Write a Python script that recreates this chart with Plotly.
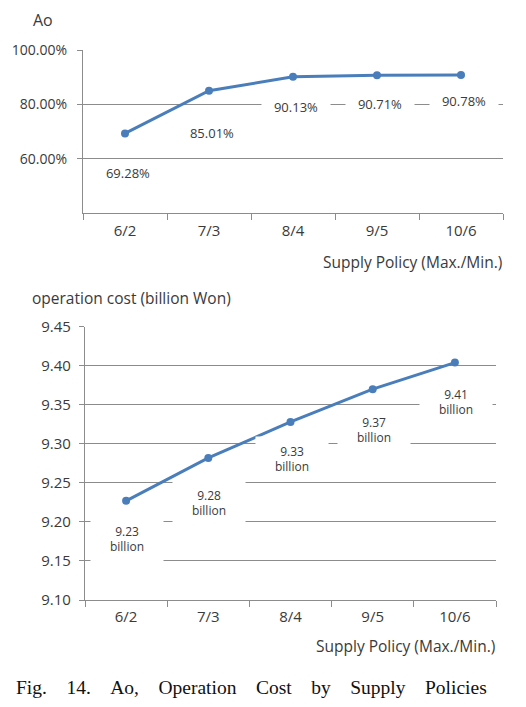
import plotly.graph_objects as go

policies = ["6/2", "7/3", "8/4", "9/5", "10/6"]
ao_values = [69.28, 85.01, 90.13, 90.71, 90.78]
ao_labels = ["69.28%", "85.01%", "90.13%", "90.71%", "90.78%"]
cost_values = [9.227, 9.282, 9.328, 9.370, 9.404]
cost_labels = ["9.23<br>billion", "9.28<br>billion", "9.33<br>billion", "9.37<br>billion", "9.41<br>billion"]
ao_ticks = [60, 80, 100]
ao_ticktext = ["60.00%", "80.00%", "100.00%"]
cost_ticks = [9.10, 9.15, 9.20, 9.25, 9.30, 9.35, 9.40, 9.45]
cost_ticktext = ["9.10", "9.15", "9.20", "9.25", "9.30", "9.35", "9.40", "9.45"]
caption_words = ["Fig.", "14.", "Ao,", "Operation", "Cost", "by", "Supply", "Policies"]

# page is 526x707; the html body has an 8px margin
OFF = 8
W, H = 526 - 2 * OFF, 707 - 2 * OFF
FONT = "Open Sans"
LINE = "#4a7ebb"
GRID = "#8c8c8c"
TXT = "#3a3a3a"

def px(x):
    return (x - OFF) / W

def py(y):
    return 1 - (y - OFF) / H

fig = go.Figure()
fig.add_trace(go.Scatter(x=policies, y=ao_values, mode="lines+markers",
                         line=dict(color=LINE, width=3), marker=dict(size=8, color=LINE),
                         xaxis="x", yaxis="y", showlegend=False, hoverinfo="skip"))
fig.add_trace(go.Scatter(x=policies, y=cost_values, mode="lines+markers",
                         line=dict(color=LINE, width=3), marker=dict(size=8, color=LINE),
                         xaxis="x2", yaxis="y2", showlegend=False, hoverinfo="skip"))

xcommon = dict(type="category", categoryorder="array", categoryarray=policies,
               range=[-0.5, 4.5], showgrid=False, showline=True, linecolor=GRID, linewidth=1.3,
               ticks="outside", tickson="boundaries", ticklen=6, tickcolor=GRID, tickwidth=1.3,
               tickfont=dict(family=FONT, size=15, color=TXT), zeroline=False, fixedrange=True,
               automargin=False)
ycommon = dict(showgrid=True, gridcolor=GRID, gridwidth=1.3,
               showline=True, linecolor=GRID, linewidth=1.3, ticks="outside", ticklen=5,
               tickcolor=GRID, tickwidth=1.3, zeroline=False, automargin=False)

fig.update_layout(
    width=W, height=H, autosize=False,
    margin=dict(l=0, r=0, t=0, b=0, pad=0, autoexpand=False),
    paper_bgcolor="white", plot_bgcolor="white",
    xaxis=dict(domain=[px(83), px(503)], anchor="y", ticklabelstandoff=4, **xcommon),
    yaxis=dict(domain=[py(213), py(50)], anchor="x", range=[40, 100],
               tickvals=ao_ticks, ticktext=ao_ticktext, ticklabelstandoff=7,
               tickfont=dict(family=FONT, size=14, color=TXT), **ycommon),
    xaxis2=dict(domain=[px(85), px(496)], anchor="y2", ticklabelstandoff=3, **xcommon),
    yaxis2=dict(domain=[py(600), py(326.7)], anchor="x2", range=[9.10, 9.45],
                tickvals=cost_ticks, ticktext=cost_ticktext, ticklabelstandoff=5,
                tickfont=dict(family=FONT, size=15, color=TXT), **ycommon),
)

ann = []
ao_shift = [-40, -42, -30, -29, -26]
for i, (c, v, t) in enumerate(zip(policies, ao_values, ao_labels)):
    ann.append(dict(x=c, y=v, xref="x", yref="y", text=t, showarrow=False,
                    yshift=ao_shift[i], xshift=3, bgcolor="white", width=62, borderpad=3,
                    font=dict(family=FONT, size=13, color=TXT)))
cost_shift = [-38, -45, -37, -41, -39]
for i, (c, v, t) in enumerate(zip(policies, cost_values, cost_labels)):
    ann.append(dict(x=c, y=v, xref="x2", yref="y2", text=t, showarrow=False,
                    yshift=cost_shift[i], xshift=1, bgcolor="white", width=64, height=36, borderpad=4,
                    font=dict(family=FONT, size=12, color=TXT)))

ann += [
    dict(x=px(43), y=py(20), xref="paper", yref="paper", text="Ao", showarrow=False,
         xanchor="center", yanchor="middle", font=dict(family=FONT, size=16, color=TXT)),
    dict(x=px(504), y=py(262), xref="paper", yref="paper", text="Supply Policy (Max./Min.)",
         showarrow=False, xanchor="right", yanchor="middle", font=dict(family=FONT, size=15.5, color=TXT)),
    dict(x=px(30), y=py(298), xref="paper", yref="paper", text="operation cost (billion Won)",
         showarrow=False, xanchor="left", yanchor="middle", font=dict(family=FONT, size=15.5, color=TXT)),
    dict(x=px(497), y=py(646), xref="paper", yref="paper", text="Supply Policy (Max./Min.)",
         showarrow=False, xanchor="right", yanchor="middle", font=dict(family=FONT, size=15.5, color=TXT)),
    dict(x=px(251), y=0, xref="paper", yref="paper",
         text=" &nbsp;&nbsp;&nbsp;".join(caption_words),
         showarrow=False, xanchor="center", yanchor="bottom", borderpad=0,
         font=dict(family="Liberation Serif", size=19.5, color="#111111")),
]
fig.update_layout(annotations=ann)

fig.write_html("out.html")
